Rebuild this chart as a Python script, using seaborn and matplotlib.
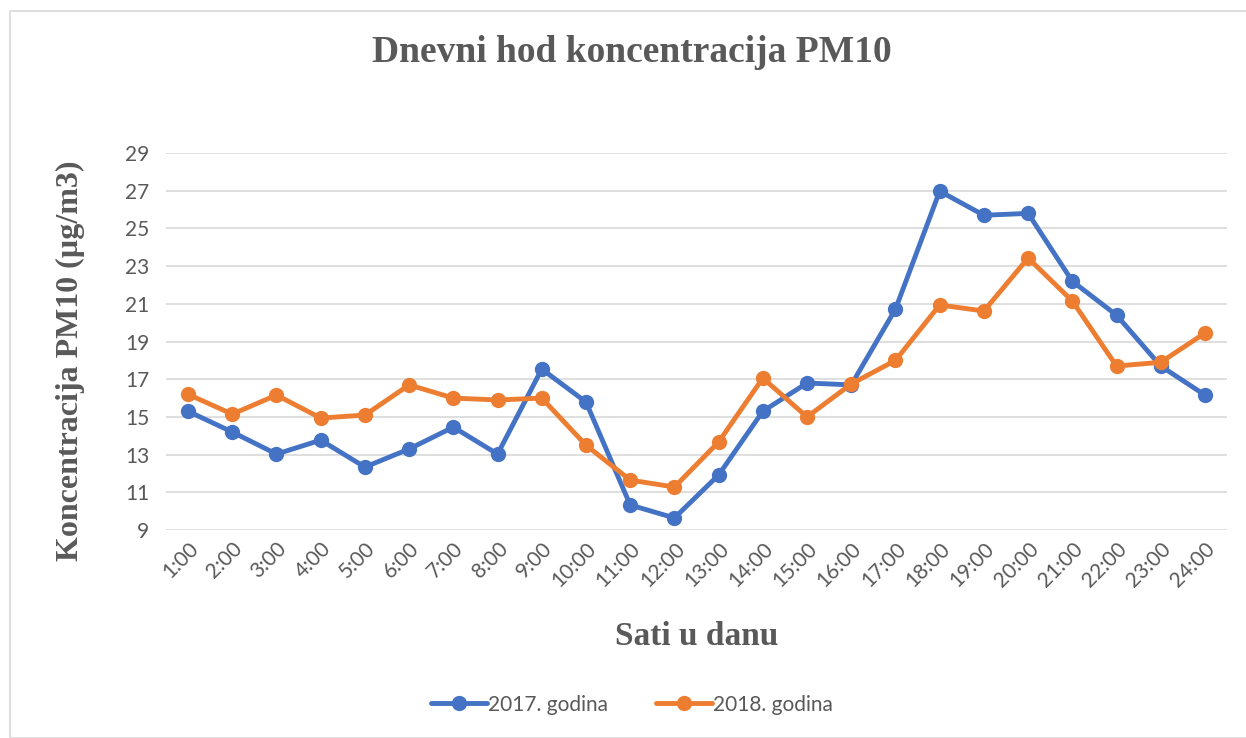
import numpy as np
import pandas as pd
import matplotlib
matplotlib.use("Agg")
import matplotlib.pyplot as plt
import seaborn as sns
from matplotlib.patches import Rectangle

# Podaci ocitani sa grafika
sati = [f"{h}:00" for h in range(1, 25)]
god_2017 = [15.3, 14.2, 13.03, 13.77, 12.34, 13.3, 14.46, 13.03, 17.54, 15.79, 10.33, 9.64,
            11.92, 15.3, 16.8, 16.7, 20.72, 26.98, 25.7, 25.8, 22.2, 20.4, 17.7, 16.16]
god_2018 = [16.2, 15.15, 16.16, 14.94, 15.1, 16.7, 16.0, 15.9, 16.0, 13.5, 11.65, 11.28,
            13.67, 17.06, 15.0, 16.75, 18.0, 20.94, 20.62, 23.43, 21.15, 17.7, 17.9, 19.45]
serije = ["2017. godina", "2018. godina"]
boje = ["#4472C4", "#ED7D31"]

df = pd.DataFrame({
    "Sat": sati * 2,
    "Koncentracija": god_2017 + god_2018,
    "Serija": [serije[0]] * len(sati) + [serije[1]] * len(sati),
})

sns.set_style("white")
plt.rcParams['font.family'] = ['Lato', 'DejaVu Sans']

fig = plt.figure(figsize=(12.46, 7.38), dpi=100)
ax = fig.add_axes([0.1332, 0.2818, 0.8516, 0.5108])

sns.lineplot(data=df, x="Sat", y="Koncentracija", hue="Serija", palette=boje,
             marker="o", markersize=11, markeredgewidth=0, linewidth=3.5,
             sort=False, ax=ax, legend=True)

ax.set_ylim(9, 29)
ax.set_yticks(np.arange(9, 30, 2))
ax.set_xlim(-0.5, len(sati) - 0.5)
ax.grid(axis="y", color="#D9D9D9", linewidth=1.2)
ax.set_axisbelow(True)
for s in ax.spines.values():
    s.set_visible(False)
ax.tick_params(axis="both", length=0, labelsize=15, labelcolor="#595959")
ax.tick_params(axis="y", pad=12)
ax.tick_params(axis="x", pad=6)
plt.setp(ax.get_xticklabels(), rotation=45, ha="right", rotation_mode="anchor")

fig.text(0.507, 1 - 52 / 738, "Dnevni hod koncentracija PM10", fontsize=27,
         fontweight="bold", color="#595959", family="Liberation Serif",
         ha="center", va="center")

ax.set_xlabel("Sati u danu", fontsize=24, fontweight="bold", color="#595959",
              family="Liberation Serif", labelpad=22)
ax.set_ylabel("Koncentracija PM10 (µg/m3)", fontsize=23, fontweight="bold",
              color="#595959", family="Liberation Serif")
ax.yaxis.set_label_coords(-0.076, 0.45)

leg = ax.legend(loc="center", bbox_to_anchor=(0.507, 0.045), bbox_transform=fig.transFigure,
                ncol=2, frameon=False, fontsize=15, handlelength=2.7, columnspacing=2.3,
                handletextpad=0.05)
for t in leg.get_texts():
    t.set_color("#595959")

fig.patches.append(Rectangle((10 / 1246, 0), 1.2, 1 - 11 / 738, transform=fig.transFigure,
                             fill=False, edgecolor="#D9D9D9", linewidth=1.2))

fig.savefig("out.png", dpi=100)
